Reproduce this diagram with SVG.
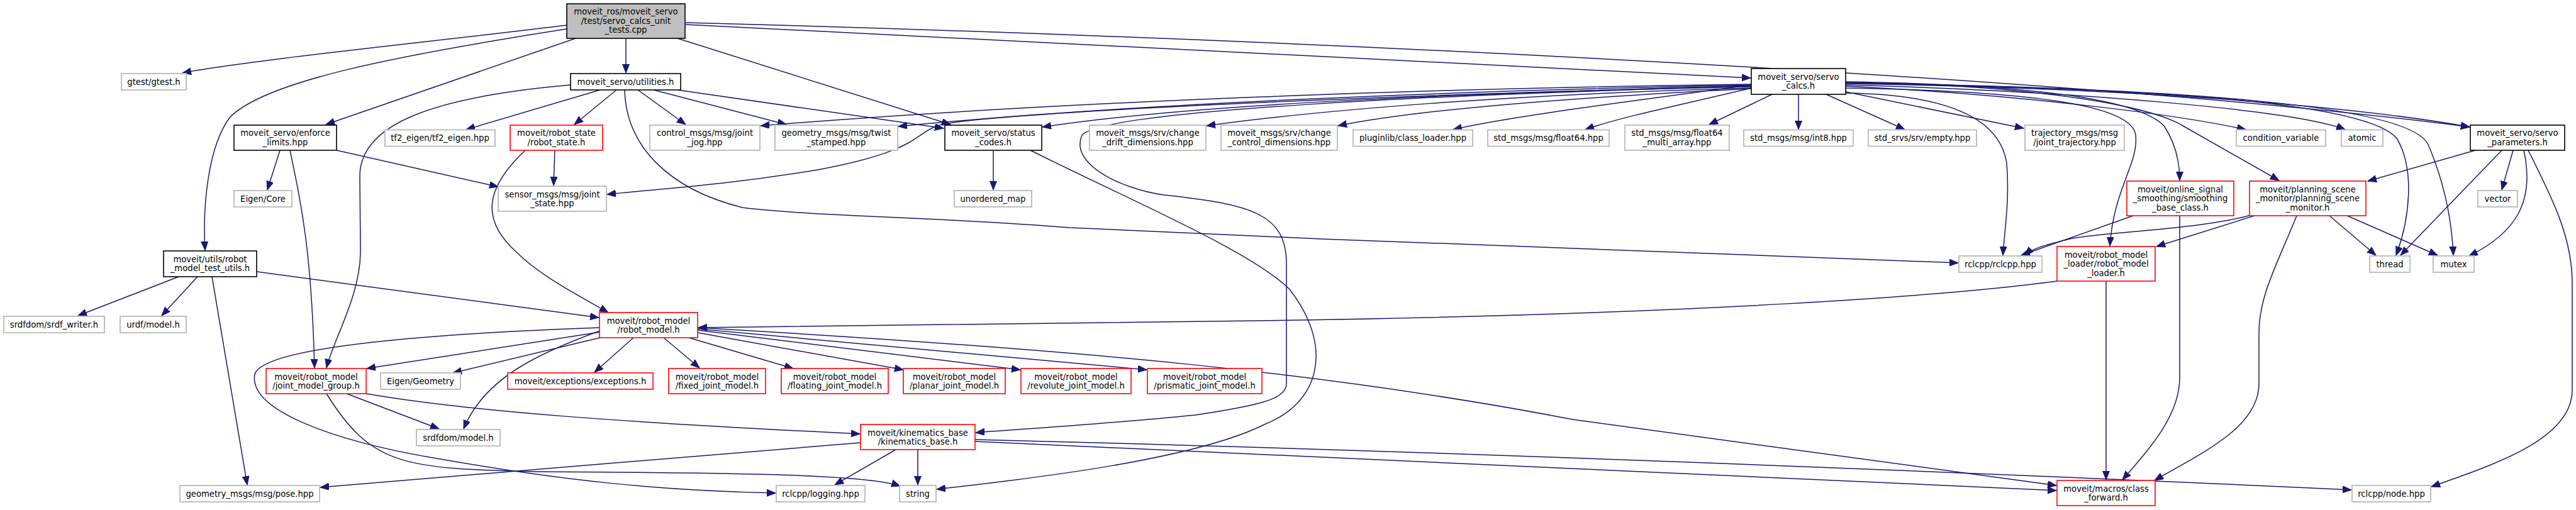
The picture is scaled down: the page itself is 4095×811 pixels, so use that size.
<svg xmlns="http://www.w3.org/2000/svg" width="4095" height="811" viewBox="0 0 4095 811">
<defs>
<style>
rect{fill:#fff;stroke-width:1.6}
.g rect{stroke:#bfbfbf;stroke-width:2}
.b rect{stroke:#000}
.r rect{stroke:#ff0000}
.m rect{fill:#bfbfbf;stroke:#000}
text{font-family:"DejaVu Sans",sans-serif;font-size:13.2px;text-anchor:middle;fill:#000}
#edges path{fill:none;stroke:#191970;stroke-width:1.5;marker-end:url(#a)}
</style>
<marker id="a" markerUnits="userSpaceOnUse" markerWidth="15" markerHeight="12" refX="14" refY="5.5" orient="auto"><path d="M0,0 L14,5.5 L0,11 z" fill="#191970" stroke="#191970" stroke-width="1"/></marker>
</defs>
<rect x="0" y="0" width="4095" height="811" style="fill:#fff;stroke:none"/>
<g id="edges">
<path d="M901,40 C700,65 400,95 290,116"/>
<path d="M995,61 L995,116"/>
<path d="M915,61 L518,198"/>
<path d="M901,46 C620,90 420,130 365,187 C330,235 322,330 326,398"/>
<path d="M1077,61 L1511,198"/>
<path d="M1090,39 L2783,124"/>
<path d="M1090,36 C2000,60 3300,120 3926,202"/>
<path d="M954,143 L741,206"/>
<path d="M980,143 L913,198"/>
<path d="M1014,143 L1090,198"/>
<path d="M1039,143 L1250,198"/>
<path d="M1077,143 L1500,204"/>
<path d="M907,135 C680,155 572,200 572,280 L573,400 C573,470 530,540 519,585"/>
<path d="M993,143 C995,230 1060,300 1180,330 C1300,345 1500,345 1700,362 C2200,385 2800,410 3113,418"/>
<path d="M445,239 L425,302"/>
<path d="M461,239 C480,330 495,400 500,585"/>
<path d="M535,239 L792,297"/>
<path d="M882,239 L880,295"/>
<path d="M835,239 C770,300 765,350 820,400 C860,440 920,470 967,497"/>
<path d="M284,440 L124,502"/>
<path d="M314,440 L257,502"/>
<path d="M337,440 L393,771"/>
<path d="M408,432 L952,505"/>
<path d="M954,528 L583,586"/>
<path d="M954,537 L720,593"/>
<path d="M1007,537 L945,592"/>
<path d="M954,526 C860,560 770,600 737,682"/>
<path d="M954,521 C700,530 420,550 405,595 C395,650 520,700 700,730 C900,765 1050,780 1233,784"/>
<path d="M1055,537 L1112,585"/>
<path d="M1095,537 L1261,586"/>
<path d="M1109,529 L1436,588"/>
<path d="M1109,525 L1622,588"/>
<path d="M1109,523 L1823,588"/>
<path d="M1109,521 C1700,555 2100,590 2500,667 L3269,772"/>
<path d="M3270,447 C3100,470 2700,500 2000,510 L1110,521"/>
<path d="M551,626 L698,682"/>
<path d="M519,626 C590,740 640,745 850,750 C1200,752 1380,755 1431,773"/>
<path d="M582,626 C750,655 1000,672 1367,690"/>
<path d="M1368,704 C1100,728 800,750 509,775"/>
<path d="M1424,715 L1327,771"/>
<path d="M1459,715 L1459,771"/>
<path d="M1550,702 C2200,730 2800,762 3269,780"/>
<path d="M1550,699 C2200,715 3000,745 3738,779"/>
<path d="M1579,239 L1579,302"/>
<path d="M1638,239 C1800,320 1990,400 2050,460 C2120,550 2100,640 2010,675 C1900,730 1650,760 1489,778"/>
<path d="M2784,137 C2300,150 1750,175 1720,215 C1700,260 1780,300 1850,310 C1990,325 2045,340 2045,420 L2045,610 C2045,635 2000,645 1900,660 C1750,675 1600,684 1551,688"/>
<path d="M2784,138 C2200,150 1550,180 1490,200 C1450,215 1460,240 1300,270 C1150,295 1050,300 965,309"/>
<path d="M2784,134 C2300,140 1700,160 1209,200"/>
<path d="M2784,135 C2300,145 1800,165 1428,201"/>
<path d="M2784,136 C2300,150 1900,165 1657,202"/>
<path d="M2784,140 C2400,150 2100,175 1918,200"/>
<path d="M2784,141 C2500,155 2250,175 2127,200"/>
<path d="M2784,135 C2600,160 2400,185 2310,206"/>
<path d="M2784,140 C2680,165 2580,185 2520,206"/>
<path d="M2817,150 L2717,198"/>
<path d="M2859,150 L2859,206"/>
<path d="M2903,150 L3028,206"/>
<path d="M2934,146 L3217,204"/>
<path d="M2934,137 C3200,150 3450,180 3570,206"/>
<path d="M2934,135 C3300,145 3650,175 3728,206"/>
<path d="M2934,133 C3400,140 3750,170 3926,202"/>
<path d="M2934,130 C3250,135 3400,160 3440,200 C3460,230 3465,260 3465,287"/>
<path d="M2934,131 C3250,135 3420,170 3470,200 L3623,287"/>
<path d="M2934,148 C3100,150 3180,190 3190,260 C3195,320 3186,370 3184,406"/>
<path d="M2934,140 C3250,145 3390,170 3395,215 C3400,260 3360,300 3354,391"/>
<path d="M2934,132 C3400,140 3760,160 3810,220 C3840,270 3830,350 3809,406"/>
<path d="M2934,132 C3450,140 3830,165 3860,230 C3890,300 3898,360 3900,406"/>
<path d="M3935,239 L3764,288"/>
<path d="M3977,239 L3816,406"/>
<path d="M3995,239 L3977,302"/>
<path d="M4012,239 C4030,320 4000,370 3925,407"/>
<path d="M4019,239 C4060,320 4089,380 4089,450 L4089,620 C4089,700 3960,740 3865,774"/>
<path d="M3391,343 L3213,406"/>
<path d="M3465,343 L3465,600 C3465,660 3420,710 3374,763"/>
<path d="M3578,342 C3500,365 3330,370 3290,380 C3250,390 3230,395 3219,406"/>
<path d="M3584,343 L3428,392"/>
<path d="M3651,343 C3620,420 3591,470 3591,530 L3591,610 C3591,680 3500,720 3425,764"/>
<path d="M3703,343 L3777,406"/>
<path d="M3731,343 L3875,406"/>
<path d="M3348,447 L3348,763"/>
</g>
<g id="n_main" class="m"><rect x="901" y="6" width="188" height="55"/><text x="995" y="23">moveit_ros/moveit_servo</text><text x="995" y="37.5">/test/servo_calcs_unit</text><text x="995" y="52">_tests.cpp</text></g>
<g id="n_gtest" class="g"><rect x="193" y="117" width="103" height="26"/><text x="244.5" y="134.7">gtest/gtest.h</text></g>
<g id="n_util" class="b"><rect x="907" y="117" width="175" height="26"/><text x="994.5" y="134.7">moveit_servo/utilities.h</text></g>
<g id="n_calcs" class="b"><rect x="2784" y="109" width="150" height="41"/><text x="2859" y="126.5">moveit_servo/servo</text><text x="2859" y="141">_calcs.h</text></g>
<g id="n_enforce" class="b"><rect x="372" y="199" width="163" height="40"/><text x="453.5" y="216">moveit_servo/enforce</text><text x="453.5" y="230.5">_limits.hpp</text></g>
<g id="n_tf2" class="g"><rect x="612" y="206.5" width="175" height="26"/><text x="699.5" y="224.2">tf2_eigen/tf2_eigen.hpp</text></g>
<g id="n_rstate" class="r"><rect x="811" y="199" width="147" height="40"/><text x="884.5" y="216">moveit/robot_state</text><text x="884.5" y="230.5">/robot_state.h</text></g>
<g id="n_jog" class="g"><rect x="1033" y="199" width="175" height="40"/><text x="1120.5" y="216">control_msgs/msg/joint</text><text x="1120.5" y="230.5">_jog.hpp</text></g>
<g id="n_twist" class="g"><rect x="1232" y="199" width="195" height="40"/><text x="1329.5" y="216">geometry_msgs/msg/twist</text><text x="1329.5" y="230.5">_stamped.hpp</text></g>
<g id="n_status" class="b"><rect x="1502" y="199" width="154" height="40"/><text x="1579" y="216">moveit_servo/status</text><text x="1579" y="230.5">_codes.h</text></g>
<g id="n_drift" class="g"><rect x="1732" y="199" width="185" height="40"/><text x="1824.5" y="216">moveit_msgs/srv/change</text><text x="1824.5" y="230.5">_drift_dimensions.hpp</text></g>
<g id="n_ctrl" class="g"><rect x="1941" y="199" width="185" height="40"/><text x="2033.5" y="216">moveit_msgs/srv/change</text><text x="2033.5" y="230.5">_control_dimensions.hpp</text></g>
<g id="n_plugin" class="g"><rect x="2151" y="206.5" width="190" height="26"/><text x="2246" y="224.2">pluginlib/class_loader.hpp</text></g>
<g id="n_f64" class="g"><rect x="2365" y="206.5" width="193" height="26"/><text x="2461.5" y="224.2">std_msgs/msg/float64.hpp</text></g>
<g id="n_f64ma" class="g"><rect x="2583" y="199" width="166" height="40"/><text x="2666" y="216">std_msgs/msg/float64</text><text x="2666" y="230.5">_multi_array.hpp</text></g>
<g id="n_int8" class="g"><rect x="2772" y="206.5" width="174" height="26"/><text x="2859" y="224.2">std_msgs/msg/int8.hpp</text></g>
<g id="n_empty" class="g"><rect x="2970" y="206.5" width="172" height="26"/><text x="3056" y="224.2">std_srvs/srv/empty.hpp</text></g>
<g id="n_traj" class="g"><rect x="3219" y="199" width="158" height="40"/><text x="3298" y="216">trajectory_msgs/msg</text><text x="3298" y="230.5">/joint_trajectory.hpp</text></g>
<g id="n_cv" class="g"><rect x="3555" y="206.5" width="142" height="26"/><text x="3626" y="224.2">condition_variable</text></g>
<g id="n_atomic" class="g"><rect x="3722" y="206.5" width="66" height="26"/><text x="3755" y="224.2">atomic</text></g>
<g id="n_params" class="b"><rect x="3927" y="199" width="150" height="40"/><text x="4002" y="216">moveit_servo/servo</text><text x="4002" y="230.5">_parameters.h</text></g>
<g id="n_ecore" class="g"><rect x="372" y="303" width="92" height="26"/><text x="418" y="320.7">Eigen/Core</text></g>
<g id="n_jstate" class="g"><rect x="792" y="296" width="172" height="40"/><text x="878" y="313.5">sensor_msgs/msg/joint</text><text x="878" y="328">_state.hpp</text></g>
<g id="n_umap" class="g"><rect x="1517" y="303" width="123" height="26"/><text x="1578.5" y="320.7">unordered_map</text></g>
<g id="n_smooth" class="r"><rect x="3381" y="288" width="170" height="55"/><text x="3466" y="305.5">moveit/online_signal</text><text x="3466" y="320">_smoothing/smoothing</text><text x="3466" y="334.5">_base_class.h</text></g>
<g id="n_psm" class="r"><rect x="3576" y="288" width="185" height="55"/><text x="3668.5" y="305.5">moveit/planning_scene</text><text x="3668.5" y="320">_monitor/planning_scene</text><text x="3668.5" y="334.5">_monitor.h</text></g>
<g id="n_vector" class="g"><rect x="3939" y="303" width="63" height="26"/><text x="3970.5" y="320.7">vector</text></g>
<g id="n_tutils" class="b"><rect x="260" y="399" width="148" height="41"/><text x="334" y="416.5">moveit/utils/robot</text><text x="334" y="431">_model_test_utils.h</text></g>
<g id="n_rclcpp" class="g"><rect x="3114" y="407" width="132" height="26"/><text x="3180" y="424.7">rclcpp/rclcpp.hpp</text></g>
<g id="n_rml" class="r"><rect x="3270" y="392" width="156" height="55"/><text x="3348" y="409.5">moveit/robot_model</text><text x="3348" y="424">_loader/robot_model</text><text x="3348" y="438.5">_loader.h</text></g>
<g id="n_thread" class="g"><rect x="3767" y="407" width="64" height="26"/><text x="3799" y="424.7">thread</text></g>
<g id="n_mutex" class="g"><rect x="3868" y="407" width="65" height="26"/><text x="3900.5" y="424.7">mutex</text></g>
<g id="n_srdfw" class="g"><rect x="6" y="503" width="160" height="26"/><text x="86" y="520.7">srdfdom/srdf_writer.h</text></g>
<g id="n_urdf" class="g"><rect x="191" y="503" width="105" height="26"/><text x="243.5" y="520.7">urdf/model.h</text></g>
<g id="n_rmodel" class="r"><rect x="953" y="497" width="156" height="40"/><text x="1031" y="514.5">moveit/robot_model</text><text x="1031" y="529">/robot_model.h</text></g>
<g id="n_jmg" class="r"><rect x="423" y="586" width="159" height="40"/><text x="502.5" y="603.5">moveit/robot_model</text><text x="502.5" y="618">/joint_model_group.h</text></g>
<g id="n_egeom" class="g"><rect x="605" y="593" width="127" height="26"/><text x="668.5" y="610.7">Eigen/Geometry</text></g>
<g id="n_exc" class="r"><rect x="807" y="593" width="231" height="26"/><text x="922.5" y="610.7">moveit/exceptions/exceptions.h</text></g>
<g id="n_fixed" class="r"><rect x="1063" y="586" width="154" height="40"/><text x="1140" y="603.5">moveit/robot_model</text><text x="1140" y="618">/fixed_joint_model.h</text></g>
<g id="n_float" class="r"><rect x="1242" y="586" width="170" height="40"/><text x="1327" y="603.5">moveit/robot_model</text><text x="1327" y="618">/floating_joint_model.h</text></g>
<g id="n_planar" class="r"><rect x="1436" y="586" width="162" height="40"/><text x="1517" y="603.5">moveit/robot_model</text><text x="1517" y="618">/planar_joint_model.h</text></g>
<g id="n_rev" class="r"><rect x="1623" y="586" width="175" height="40"/><text x="1710.5" y="603.5">moveit/robot_model</text><text x="1710.5" y="618">/revolute_joint_model.h</text></g>
<g id="n_pris" class="r"><rect x="1824" y="586" width="182" height="40"/><text x="1915" y="603.5">moveit/robot_model</text><text x="1915" y="618">/prismatic_joint_model.h</text></g>
<g id="n_srdfm" class="g"><rect x="662" y="683" width="133" height="26"/><text x="728.5" y="700.7">srdfdom/model.h</text></g>
<g id="n_kin" class="r"><rect x="1368" y="675" width="182" height="40"/><text x="1459" y="692.5">moveit/kinematics_base</text><text x="1459" y="707">/kinematics_base.h</text></g>
<g id="n_pose" class="g"><rect x="286" y="772" width="222" height="26"/><text x="397" y="789.7">geometry_msgs/msg/pose.hpp</text></g>
<g id="n_log" class="g"><rect x="1234" y="772" width="141" height="26"/><text x="1304.5" y="789.7">rclcpp/logging.hpp</text></g>
<g id="n_string" class="g"><rect x="1430" y="772" width="58" height="26"/><text x="1459" y="789.7">string</text></g>
<g id="n_cfwd" class="r"><rect x="3270" y="764" width="156" height="40"/><text x="3348" y="781.5">moveit/macros/class</text><text x="3348" y="796">_forward.h</text></g>
<g id="n_node" class="g"><rect x="3739" y="772" width="125" height="26"/><text x="3801.5" y="789.7">rclcpp/node.hpp</text></g>
</svg>
